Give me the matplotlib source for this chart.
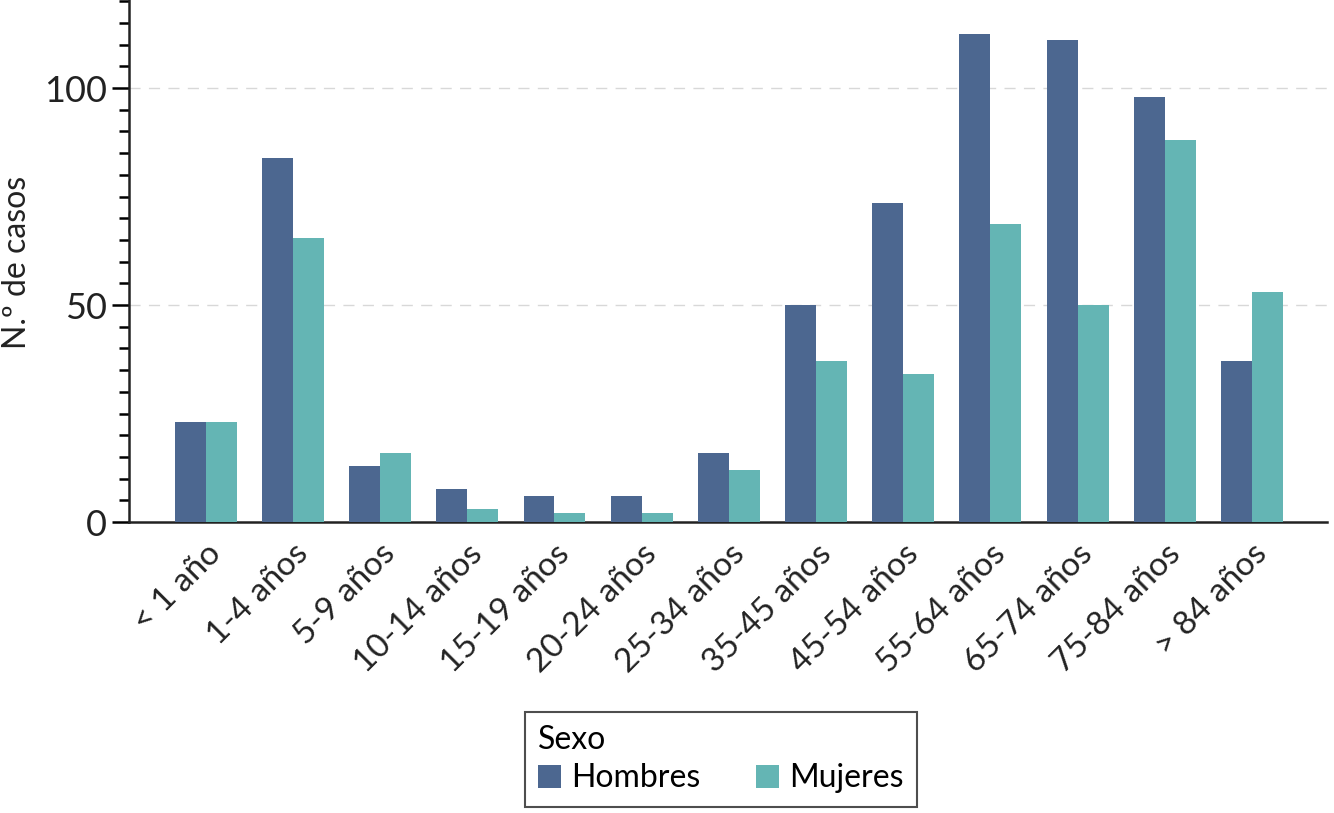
import matplotlib
matplotlib.use("Agg")
import matplotlib.pyplot as plt
import numpy as np
from matplotlib.ticker import MultipleLocator

categories = ["< 1 año", "1-4 años", "5-9 años", "10-14 años", "15-19 años",
              "20-24 años", "25-34 años", "35-45 años", "45-54 años",
              "55-64 años", "65-74 años", "75-84 años", "> 84 años"]
hombres = [23, 84, 13, 7.5, 6, 6, 16, 50, 73.5, 112.5, 111, 98, 37]
mujeres = [23, 65.5, 16, 3, 2, 2, 12, 37, 34, 68.6, 50, 88, 53]
yticks = [0, 50, 100]

c_h = "#4C6790"
c_m = "#64B5B4"
tc = "#222222"

plt.rcParams['font.family'] = ['Lato', 'DejaVu Sans']

fig = plt.figure(figsize=(13.34, 8.13), dpi=100)
ax = fig.add_axes([129/1334, 1 - 522/813, (1327-129)/1334, 522/813])

x = np.arange(len(categories))
w = 0.355
ax.bar(x - w/2, hombres, width=w, color=c_h, label="Hombres", zorder=3)
ax.bar(x + w/2, mujeres, width=w, color=c_m, label="Mujeres", zorder=3)

ax.set_xlim(-0.88, len(categories) - 1 + 0.86)
ax.set_ylim(0, 120.3)
ax.set_yticks(yticks)
ax.yaxis.set_minor_locator(MultipleLocator(5))
ax.set_yticklabels([str(t) for t in yticks], fontsize=26, color=tc)
ax.tick_params(axis='y', which='major', length=12, width=1.8, direction='out', pad=4)
ax.tick_params(axis='y', which='minor', length=7, width=1.8, direction='out')
ax.set_xticks(x)
ax.set_xticklabels(categories, rotation=45, ha='right', rotation_mode='anchor',
                   fontsize=24, color=tc)
ax.tick_params(axis='x', length=0, pad=12)

for t in [50, 100]:
    ax.axhline(t, color="#d8d8d8", lw=1, ls=(0, (8, 6)), zorder=1)

for s in ['top', 'right']:
    ax.spines[s].set_visible(False)
for s in ['left', 'bottom']:
    ax.spines[s].set_linewidth(1.8)
    ax.spines[s].set_color(tc)

fig.text(17/1334, 1 - 262/813, "N.º de casos", rotation=90, fontsize=23,
         color=tc, ha='center', va='center')

leg = fig.legend(title="Sexo", loc='upper left', bbox_to_anchor=(525/1334, 1 - 712/813),
                 borderaxespad=0,
                 ncol=2, fontsize=23, title_fontsize=23, frameon=True, fancybox=False,
                 edgecolor=tc, handlelength=0.72, handleheight=0.72,
                 handletextpad=0.3, columnspacing=1.75, borderpad=0.42,
                 labelspacing=0.25)
leg._legend_box.align = "left"
leg.get_frame().set_linewidth(1.5)

fig.savefig("out.png", dpi=100)
